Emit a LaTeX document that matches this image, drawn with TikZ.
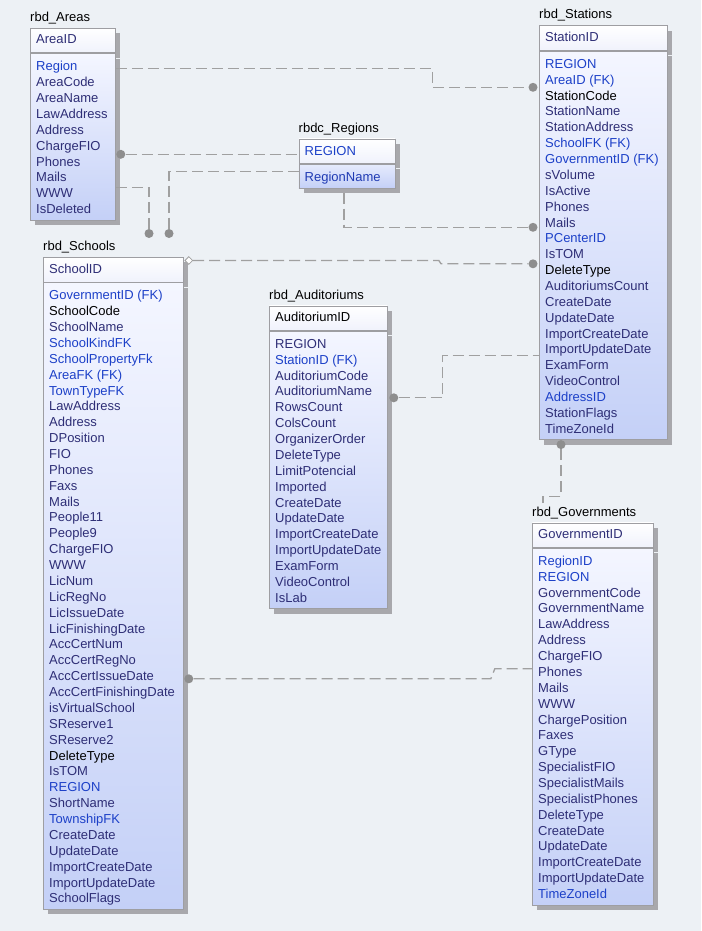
\documentclass[tikz,border=0pt]{standalone}
\usepackage{fontspec}
\setmainfont{Liberation Sans}
\usetikzlibrary{calc,shadows,shapes.geometric}

\definecolor{bgc}{RGB}{237,241,245}
\definecolor{navy}{RGB}{46,46,118}
\definecolor{keyblue}{RGB}{28,64,200}
\definecolor{boxline}{RGB}{158,158,162}
\definecolor{shadowc}{RGB}{168,168,172}
\definecolor{bodytop}{RGB}{244,246,255}
\definecolor{bodybot}{RGB}{196,208,247}
\definecolor{hdrbot}{RGB}{240,242,252}
\definecolor{linkc}{RGB}{160,160,160}
\definecolor{dotc}{RGB}{142,142,142}

\newcommand{\kb}{\color{keyblue}}
\newcommand{\bk}{\color{black}}

\tikzset{
  box/.style={draw=boxline, line width=0.8pt, anchor=north west, inner sep=0pt,
    general shadow={fill=shadowc, shadow xshift=5pt, shadow yshift=-5pt}},
  hdr/.style={box, minimum height=24.5pt, top color=white, bottom color=hdrbot},
  body/.style={box, top color=bodytop, bottom color=bodybot},
  fld/.style={anchor=base west, inner sep=0pt, text=navy, font=\fontsize{13}{16}\selectfont},
  ttl/.style={anchor=base west, inner sep=0pt, text=black, font=\fontsize{13}{16}\selectfont},
  link/.style={draw=linkc, line width=1.3pt, dash pattern=on 11pt off 5pt},
  dot/.style={circle, fill=dotc, minimum size=9pt, inner sep=0pt},
}

\begin{document}
\begin{tikzpicture}[x=1pt, y=-1pt]
  % background
  \fill[bgc] (0,0) rectangle (701,931);
  \useasboundingbox (0,0) rectangle (701,931);

  % rbd_Areas
  \node[hdr, minimum width=85pt] (areasH) at (30,28) {};
  \node[body, minimum width=85pt, minimum height=166.3pt] (areasB) at (areasH.south west) {};
  \node[ttl] (areasT) at ($(areasH.north west)+(0,-6.5)$) {rbd\_Areas};
  \node[fld] (areasK) at ($(areasH.north west)+(6,16)$) {AreaID};
  \foreach \f [count=\i from 0] in {{\kb Region},AreaCode,AreaName,LawAddress,Address,
      ChargeFIO,Phones,Mails,WWW,IsDeleted}
    \node[fld] (areas-\i) at ($(areasB.north west)+(6,17.5+\i*15.87)$) {\f};

  % rbdc_Regions
  \node[hdr, minimum width=96pt] (regionsH) at (298.5,138.5) {};
  \node[body, minimum width=96pt, minimum height=24pt, top color=bodytop!70!bodybot] (regionsB) at (regionsH.south west) {};
  \node[ttl] (regionsT) at ($(regionsH.north west)+(0,-6.5)$) {rbdc\_Regions};
  \node[fld, text=keyblue] (regionsK) at ($(regionsH.north west)+(6,16.5)$) {REGION};
  \node[fld, text=keyblue!75!navy] (regions-0) at ($(regionsB.north west)+(6,18)$) {RegionName};

  % rbd_Stations
  \node[hdr, minimum width=128pt] (stationsH) at (539,25.5) {};
  \node[body, minimum width=128pt, minimum height=388.5pt] (stationsB) at (stationsH.south west) {};
  \node[ttl] (stationsT) at ($(stationsH.north west)+(0,-6.5)$) {rbd\_Stations};
  \node[fld] (stationsK) at ($(stationsH.north west)+(6,16)$) {StationID};
  \foreach \f [count=\i from 0] in {{\kb REGION},{\kb AreaID (FK)},{\bk StationCode},StationName,
      StationAddress,{\kb SchoolFK (FK)},{\kb GovernmentID (FK)},sVolume,IsActive,Phones,Mails,
      {\kb PCenterID},IsTOM,{\bk DeleteType},AuditoriumsCount,CreateDate,UpdateDate,
      ImportCreateDate,ImportUpdateDate,ExamForm,VideoControl,{\kb AddressID},StationFlags,TimeZoneId}
    \node[fld] (stations-\i) at ($(stationsB.north west)+(6,17.5+\i*15.87)$) {\f};

  % rbd_Schools
  \node[hdr, minimum width=140pt] (schoolsH) at (43,257) {};
  \node[body, minimum width=140pt, minimum height=626.6pt] (schoolsB) at (schoolsH.south west) {};
  \node[ttl] (schoolsT) at ($(schoolsH.north west)+(0,-6.5)$) {rbd\_Schools};
  \node[fld] (schoolsK) at ($(schoolsH.north west)+(6,16)$) {SchoolID};
  \foreach \f [count=\i from 0] in {{\kb GovernmentID (FK)},{\bk SchoolCode},SchoolName,
      {\kb SchoolKindFK},{\kb SchoolPropertyFk},{\kb AreaFK (FK)},{\kb TownTypeFK},LawAddress,
      Address,DPosition,FIO,Phones,Faxs,Mails,People11,People9,ChargeFIO,WWW,LicNum,LicRegNo,
      LicIssueDate,LicFinishingDate,AccCertNum,AccCertRegNo,AccCertIssueDate,AccCertFinishingDate,
      isVirtualSchool,SReserve1,SReserve2,{\bk DeleteType},IsTOM,{\kb REGION},ShortName,
      {\kb TownshipFK},CreateDate,UpdateDate,ImportCreateDate,ImportUpdateDate,SchoolFlags}
    \node[fld] (schools-\i) at ($(schoolsB.north west)+(6,17.5+\i*15.87)$) {\f};

  % rbd_Auditoriums
  \node[hdr, minimum width=118pt] (audsH) at (269,305.5) {};
  \node[body, minimum width=118pt, minimum height=277.4pt] (audsB) at (audsH.south west) {};
  \node[ttl] (audsT) at ($(audsH.north west)+(0,-6.5)$) {rbd\_Auditoriums};
  \node[fld, text=black] (audsK) at ($(audsH.north west)+(6,16)$) {AuditoriumID};
  \foreach \f [count=\i from 0] in {REGION,{\kb StationID (FK)},AuditoriumCode,AuditoriumName,
      RowsCount,ColsCount,OrganizerOrder,DeleteType,LimitPotencial,Imported,CreateDate,UpdateDate,
      ImportCreateDate,ImportUpdateDate,ExamForm,VideoControl,IsLab}
    \node[fld] (auds-\i) at ($(audsB.north west)+(6,17.5+\i*15.87)$) {\f};

  % rbd_Governments
  \node[hdr, minimum width=121pt] (govsH) at (532,522.5) {};
  \node[body, minimum width=121pt, minimum height=356.8pt] (govsB) at (govsH.south west) {};
  \node[ttl] (govsT) at ($(govsH.north west)+(0,-6.5)$) {rbd\_Governments};
  \node[fld] (govsK) at ($(govsH.north west)+(6,16)$) {GovernmentID};
  \foreach \f [count=\i from 0] in {{\kb RegionID},{\kb REGION},GovernmentCode,GovernmentName,
      LawAddress,Address,ChargeFIO,Phones,Mails,WWW,ChargePosition,Faxes,GType,SpecialistFIO,
      SpecialistMails,SpecialistPhones,DeleteType,CreateDate,UpdateDate,ImportCreateDate,
      ImportUpdateDate,{\kb TimeZoneId}}
    \node[fld] (govs-\i) at ($(govsB.north west)+(6,17.5+\i*15.87)$) {\f};

  % relation ends
  \node[dot] (d1) at ($(stationsB.north west)+(-6,36.5)$) {};
  \node[dot] (d2) at ($(areasB.north east)+(5,101)$) {};
  \node[dot] (d3) at ($(schoolsH.north west)+(126,-23.5)$) {};
  \node[dot] (d4) at ($(schoolsH.north west)+(106,-23.5)$) {};
  \node[dot] (d5) at ($(stationsB.north west)+(-6,176.5)$) {};
  \node[dot] (d6) at ($(stationsB.north west)+(-6,213)$) {};
  \node[dot] (d7) at ($(audsB.north east)+(6,67)$) {};
  \node[dot] (d8) at ($(stationsB.south west)+(22,4.5)$) {};
  \node[dot] (d9) at ($(schoolsB.north east)+(5,396.5)$) {};
  \node[diamond, draw=linkc, fill=white, line width=0.8pt, inner sep=0pt, minimum size=8pt]
    (dm) at ($(schoolsH.north east)+(5,3.5)$) {};

  % relations
  \draw[link] ($(areasB.north east)+(0,15.5)$) -- ++(317,0) |- (d1);
  \draw[link] (d2) -- (d2 -| regionsH.west);
  \draw[link] ($(regionsB.west)+(0,-5)$) -| (d3);
  \draw[link] ($(areasB.north east)+(0,134)$) -| (d4);
  \draw[link] ($(regionsB.south)+(-3,4)$) |- (d5);
  \draw[link] (dm) -- ($(dm)+(250,0)$) -- ($(d6)+(-92,0)$) -- (d6);
  \draw[link] (d7) -- ++(49,0) |- ($(stationsB.north west)+(0,305)$);
  \draw[link] (d8) -- ++(0,52) -| ($(govsH.north west)+(11,-20)$);
  \draw[link] (d9) -- ++(302,0) -- ++(4,-10) -- ($(govsB.north west)+(0,121)$);
\end{tikzpicture}
\end{document}
